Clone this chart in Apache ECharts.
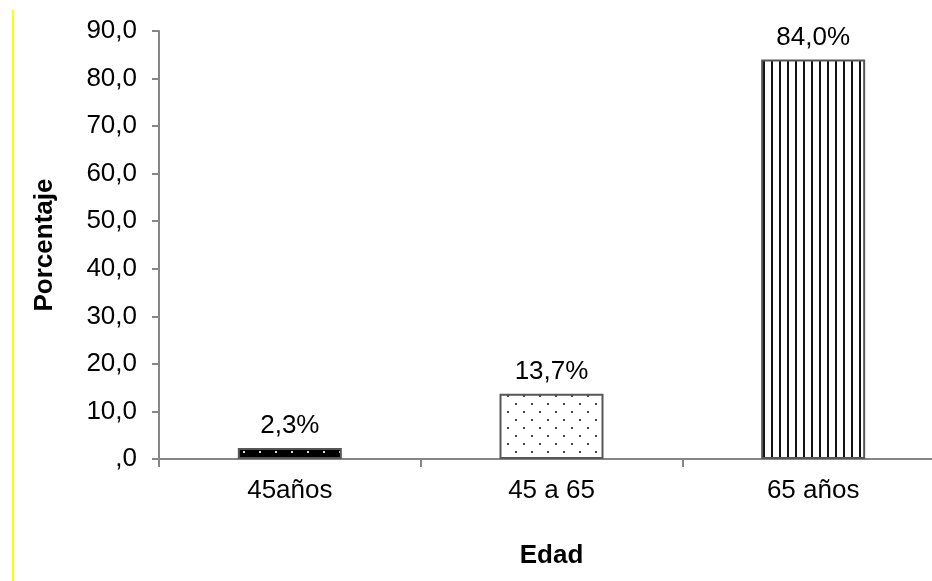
<!DOCTYPE html>
<html>
<head>
<meta charset="utf-8">
<script src="https://cdn.jsdelivr.net/npm/echarts@6/dist/echarts.min.js"></script>
<style>
  html, body { margin: 0; padding: 0; background: #fff; overflow: hidden; }
  #chart { width: 960px; height: 581px; }
</style>
</head>
<body>
<div id="chart"></div>
<script>
// Age groups and their share (%)
const categories = ['45años', '45 a 65', '65 años'];
const percentages = [2.3, 13.7, 84.0];
const valueLabels = ['2,3%', '13,7%', '84,0%'];
const yTickLabels = [',0', '10,0', '20,0', '30,0', '40,0', '50,0', '60,0', '70,0', '80,0', '90,0'];

const FONT = '"Liberation Sans", Arial, sans-serif';

// Fill patterns drawn on small canvases
function makeTile(w, h, draw) {
  const c = document.createElement('canvas');
  c.width = w; c.height = h;
  draw(c.getContext('2d'));
  return c;
}
const darkDots = makeTile(16, 16, g => {
  g.fillStyle = '#000'; g.fillRect(0, 0, 16, 16);
  g.fillStyle = '#ddd';
  g.fillRect(3, 3, 2, 2);
  g.fillRect(11, 11, 2, 2);
});
const lightDots = makeTile(16, 16, g => {
  g.fillStyle = '#fff'; g.fillRect(0, 0, 16, 16);
  g.fillStyle = '#444';
  g.fillRect(3, 3, 2, 2);
  g.fillRect(11, 11, 2, 2);
});
const stripes = makeTile(8, 8, g => {
  g.fillStyle = '#fff'; g.fillRect(0, 0, 8, 8);
  g.fillStyle = '#111'; g.fillRect(3, 0, 2, 8);
});
const fills = [darkDots, lightDots, stripes];

const chart = echarts.init(document.getElementById('chart'), null, { renderer: 'canvas' });

chart.setOption({
  animation: false,
  backgroundColor: '#fff',
  grid: { left: 159, top: 31, width: 785, bottom: 122, containLabel: false, outerBoundsMode: 'none' },
  xAxis: {
    type: 'category',
    data: categories,
    name: 'Edad',
    nameLocation: 'middle',
    nameGap: 84,
    nameTextStyle: { fontFamily: FONT, fontSize: 26, fontWeight: 'bold', color: '#000' },
    axisLine: { lineStyle: { color: '#868686', width: 2 } },
    axisTick: { show: true, length: 8, lineStyle: { color: '#868686', width: 2 } },
    axisLabel: { fontFamily: FONT, fontSize: 26, color: '#000', margin: 19 }
  },
  yAxis: {
    type: 'value',
    min: 0, max: 90, interval: 10,
    name: 'Porcentaje',
    nameLocation: 'middle',
    nameRotate: 90,
    nameGap: 101,
    nameTextStyle: { fontFamily: FONT, fontSize: 26, fontWeight: 'bold', color: '#000' },
    splitLine: { show: false },
    axisLine: { show: true, lineStyle: { color: '#868686', width: 2 } },
    axisTick: { show: true, length: 7, lineStyle: { color: '#868686', width: 2 } },
    axisLabel: {
      fontFamily: FONT, fontSize: 26, color: '#000', margin: 22,
      formatter: v => yTickLabels[Math.round(v / 10)]
    }
  },
  series: [{
    type: 'bar',
    barWidth: 104,
    data: percentages.map((v, i) => ({
      value: v,
      itemStyle: {
        color: { image: fills[i], repeat: 'repeat' },
        borderColor: '#575757',
        borderWidth: 2
      }
    })),
    label: {
      show: true,
      position: 'top',
      distance: 9,
      fontFamily: FONT, fontSize: 26, color: '#000',
      formatter: p => valueLabels[p.dataIndex]
    }
  }],
  graphic: [{
    type: 'line',
    shape: { x1: 13, y1: 10, x2: 13, y2: 581 },
    style: { stroke: '#ffff00', lineWidth: 2 }
  }]
});
</script>
</body>
</html>
